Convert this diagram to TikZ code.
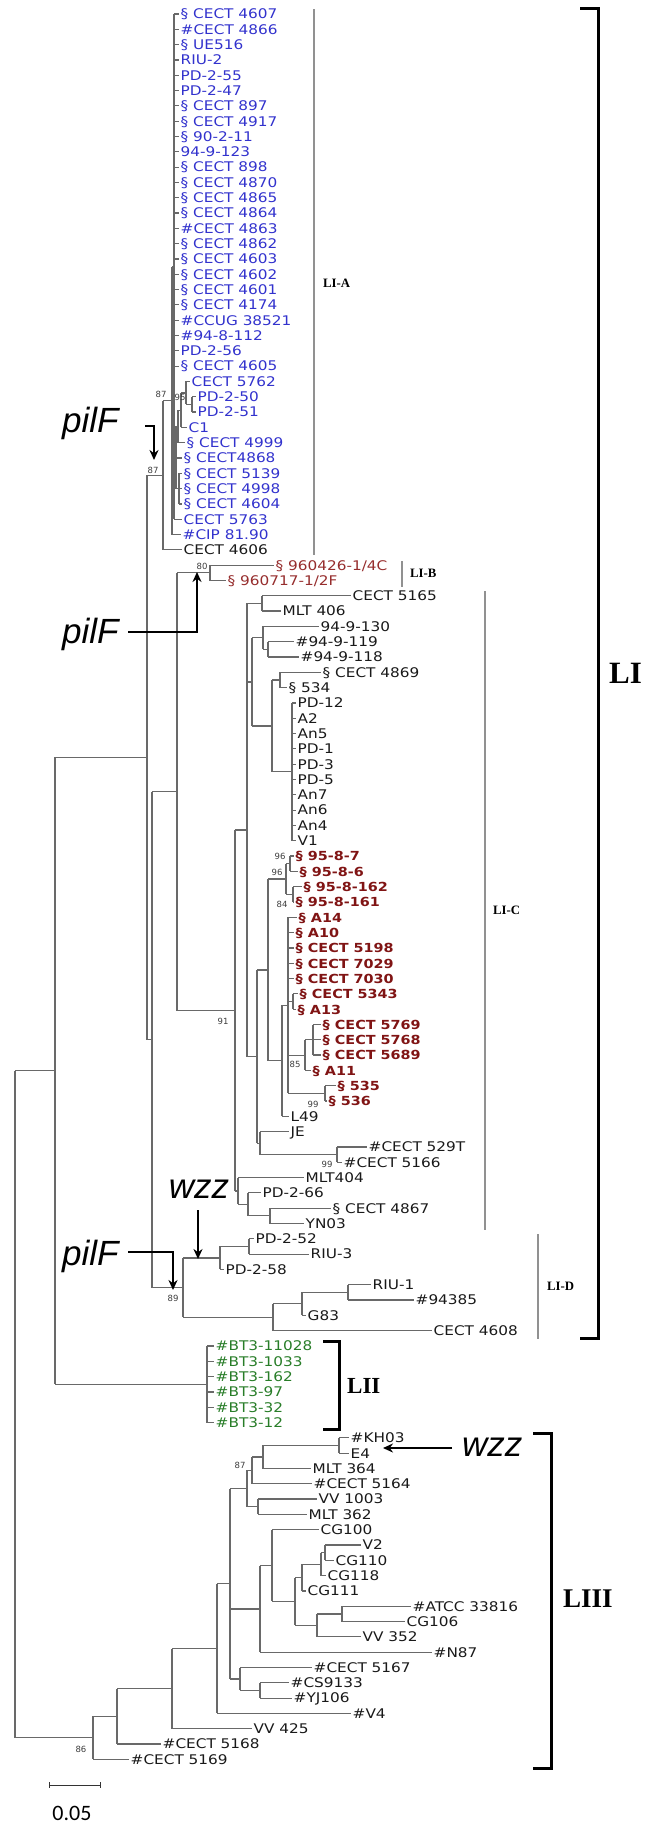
\documentclass[tikz,border=0pt]{standalone}
\usepackage{fontspec}
\setmainfont{DejaVu Sans}
\newfontfamily\lblfont{DejaVu Sans}[FakeStretch=1.15]
\newfontfamily\bsfont{DejaVu Sans}
\newfontfamily\cladefont{Liberation Serif}
\newfontfamily\genefont{Liberation Sans}
\newfontfamily\scalebarfont{Carlito}
\usetikzlibrary{arrows.meta}
\definecolor{treegray}{RGB}{105,105,105}
\definecolor{lblblue}{RGB}{50,50,205}
\definecolor{lblbrown}{RGB}{150,45,45}
\definecolor{lblred}{RGB}{128,20,20}
\definecolor{lblgreen}{RGB}{40,125,40}
\definecolor{lblblack}{RGB}{25,25,25}
\definecolor{bsgray}{RGB}{60,60,60}
\definecolor{bargray}{RGB}{145,145,145}
\newcommand{\tleaf}[5]{%
  \pgfmathsetmacro{\yy}{14+15.31*#1}%
  \node[lbl,#2,anchor=west] (r#1) at (#4,\yy) {#5};%
  \draw[br] (#3 |- r#1.west) -- (r#1.west);}
\newcommand{\tnode}[4]{\coordinate (#1) at (#2,{(#3+#4)/2}); \draw[br] (#2,#3) -- (#2,#4);}
\newcommand{\tlink}[2]{\draw[br] (#1 |- #2) -- (#2);}
\begin{document}
\begin{tikzpicture}[x=1pt,y=-1pt,
  br/.style={draw=treegray, line width=1.2pt},
  lbl/.style={font=\lblfont\fontsize{13.3}{15}\selectfont, text=lblblack, inner xsep=1.5pt, inner ysep=0pt, text height=9.7pt, text depth=0pt},
  blk/.style={},
  blu/.style={text=lblblue},
  brn/.style={text=lblbrown},
  redb/.style={text=lblred, font=\lblfont\bfseries\fontsize{12.5}{15}\selectfont},
  grn/.style={text=lblgreen},
  bs/.style={font=\bsfont\fontsize{8.5}{9}\selectfont, text=bsgray, inner sep=0pt},
  cbar/.style={draw=bargray, line width=1.4pt},
  bracket/.style={draw=black, line width=3pt, line join=miter},
  clab/.style={font=\cladefont\bfseries\fontsize{12.8}{13}\selectfont, inner sep=0pt, anchor=west},
  gene/.style={font=\genefont\itshape\fontsize{35}{36}\selectfont, inner sep=0pt},
  arr/.style={draw=black, line width=2.2pt, -{Stealth[length=10pt,width=9pt]}}
]
\useasboundingbox (0,0) rectangle (646,1823);

% ---------- internal nodes ----------
% LI-A
\tnode{PA1}{174}{14.0}{519.2}
\tnode{nPD}{192}{396.8}{412.1}
\tnode{n95}{186}{381.4}{404.45}
\tnode{nC}{181}{392.9}{427.4}
\tnode{nD}{178}{410.15}{442.7}
\tnode{nE}{179}{473.3}{503.9}
\tnode{S}{176}{426.4}{488.6}
\tnode{PA0}{172}{266.6}{534.5}
\tnode{N2}{163}{400.55}{549.9}
% LI-B / LI-C
\tnode{nB80}{210}{565.2}{580.5}
\tnode{C5165}{262}{595.8}{611.1}
\tnode{H}{268}{641.7}{657.0}
\tnode{G94}{263}{626.4}{649.35}
\tnode{L}{280}{672.3}{687.6}
\tnode{M}{292}{703.0}{840.7}
\tnode{N272}{272}{679.95}{771.85}
\tnode{P252}{252}{637.9}{725.9}
\tnode{n96a}{290}{856.1}{871.4}
\tnode{n84}{293}{886.7}{902.0}
\tnode{n96b}{286}{863.75}{894.35}
\tnode{n5343}{293}{993.8}{1009.2}
\tnode{n5769}{313}{1024.5}{1055.1}
\tnode{n85}{305}{1039.8}{1070.4}
\tnode{n99}{325}{1085.7}{1101.0}
\tnode{nA}{288}{917.3}{1093.35}
\tnode{Q}{282}{1005.3}{1116.3}
\tnode{R268}{268}{879.05}{1060.8}
\tnode{n99b}{337}{1146.9}{1162.3}
\tnode{J260}{260}{1131.6}{1154.6}
\tnode{n257}{257}{969.9}{1143.1}
\tnode{X}{247}{603.45}{1056.5}
\tnode{n270}{270}{1208.2}{1223.5}
\tnode{n248}{248}{1192.9}{1215.85}
\tnode{Y}{238}{1177.6}{1204.4}
\tnode{n91}{235}{829.98}{1191.0}
\tnode{W}{177}{572.85}{1010.5}
% LI-D
\tnode{Q249}{249}{1238.8}{1254.1}
\tnode{R220}{220}{1246.45}{1269.4}
\tnode{U}{348}{1284.7}{1300.0}
\tnode{T}{302}{1292.35}{1315.4}
\tnode{S273}{273}{1303.9}{1330.7}
\tnode{n89}{183}{1257.9}{1317.3}
\tnode{B}{152}{791.7}{1287.6}
\tnode{N1}{147}{475.2}{1039.65}
% LII
\tnode{nLII}{207}{1346.0}{1422.5}
\tnode{A}{55}{757.4}{1384.25}
% LIII
\tnode{nKH}{339}{1437.8}{1453.1}
\tnode{MLTn}{263}{1445.45}{1468.5}
\tnode{n87}{252}{1457.0}{1483.8}
\tnode{Vm}{258}{1499.1}{1514.4}
\tnode{X5}{247}{1470.4}{1506.75}
\tnode{V2b}{325}{1545.0}{1560.3}
\tnode{nV2}{321}{1552.65}{1575.6}
\tnode{CG}{302}{1564.1}{1590.9}
\tnode{AC}{342}{1606.2}{1621.6}
\tnode{nAT}{317}{1613.9}{1636.9}
\tnode{X9}{295}{1577.5}{1625.4}
\tnode{X8}{272}{1529.7}{1601.45}
\tnode{X6}{260}{1565.6}{1652.2}
\tnode{CS}{260}{1682.8}{1698.1}
\tnode{X7}{240}{1667.5}{1690.45}
\tnode{X4}{230}{1488.6}{1679.0}
\tnode{X3}{217}{1583.8}{1713.4}
\tnode{X2}{172}{1648.6}{1728.7}
\tnode{X1}{117}{1688.65}{1744.0}
\tnode{n86}{93}{1716.3}{1759.3}
\tnode{Root}{15}{1070.8}{1737.8}

% ---------- internal links ----------
\tlink{PA0}{PA1}\tlink{PA1}{S}\tlink{S}{nD}\tlink{S}{nE}\tlink{nD}{nC}\tlink{nC}{n95}\tlink{n95}{nPD}
\tlink{N2}{PA0}\tlink{N1}{N2}\tlink{N1}{B}\tlink{B}{W}\tlink{B}{n89}
\tlink{W}{nB80}\tlink{W}{n91}\tlink{n91}{X}\tlink{n91}{Y}
\tlink{X}{C5165}\tlink{X}{P252}\tlink{X}{n257}\tlink{P252}{G94}\tlink{P252}{N272}\tlink{G94}{H}
\tlink{N272}{L}\tlink{N272}{M}\tlink{n257}{R268}\tlink{n257}{J260}\tlink{R268}{n96b}\tlink{R268}{Q}
\tlink{n96b}{n96a}\tlink{n96b}{n84}\tlink{Q}{nA}\tlink{nA}{n5343}\tlink{nA}{n85}\tlink{nA}{n99}\tlink{n85}{n5769}
\tlink{J260}{n99b}\tlink{Y}{n248}\tlink{n248}{n270}
\tlink{n89}{R220}\tlink{n89}{S273}\tlink{R220}{Q249}\tlink{S273}{T}\tlink{T}{U}
\tlink{A}{N1}\tlink{A}{nLII}\tlink{Root}{A}\tlink{Root}{n86}
\tlink{n86}{X1}\tlink{X1}{X2}\tlink{X2}{X3}\tlink{X3}{X4}\tlink{X4}{X5}\tlink{X4}{X6}\tlink{X4}{X7}
\tlink{X5}{n87}\tlink{X5}{Vm}\tlink{n87}{MLTn}\tlink{MLTn}{nKH}\tlink{X6}{X8}\tlink{X8}{X9}
\tlink{X9}{CG}\tlink{X9}{nAT}\tlink{CG}{nV2}\tlink{nV2}{V2b}\tlink{nAT}{AC}\tlink{X7}{CS}

% ---------- leaves: LI-A ----------
\tleaf{0}{blu}{PA1}{179}{§ CECT 4607}
\tleaf{1}{blu}{PA1}{179}{\#CECT 4866}
\tleaf{2}{blu}{PA1}{179}{§ UE516}
\tleaf{3}{blu}{PA1}{179}{RIU-2}
\tleaf{4}{blu}{PA1}{179}{PD-2-55}
\tleaf{5}{blu}{PA1}{179}{PD-2-47}
\tleaf{6}{blu}{PA1}{179}{§ CECT 897}
\tleaf{7}{blu}{PA1}{179}{§ CECT 4917}
\tleaf{8}{blu}{PA1}{179}{§ 90-2-11}
\tleaf{9}{blu}{PA1}{179}{94-9-123}
\tleaf{10}{blu}{PA1}{179}{§ CECT 898}
\tleaf{11}{blu}{PA1}{179}{§ CECT 4870}
\tleaf{12}{blu}{PA1}{179}{§ CECT 4865}
\tleaf{13}{blu}{PA1}{179}{§ CECT 4864}
\tleaf{14}{blu}{PA1}{179}{\#CECT 4863}
\tleaf{15}{blu}{PA1}{179}{§ CECT 4862}
\tleaf{16}{blu}{PA1}{179}{§ CECT 4603}
\tleaf{17}{blu}{PA1}{179}{§ CECT 4602}
\tleaf{18}{blu}{PA1}{179}{§ CECT 4601}
\tleaf{19}{blu}{PA1}{179}{§ CECT 4174}
\tleaf{20}{blu}{PA1}{179}{\#CCUG 38521}
\tleaf{21}{blu}{PA1}{179}{\#94-8-112}
\tleaf{22}{blu}{PA1}{179}{PD-2-56}
\tleaf{23}{blu}{PA1}{179}{§ CECT 4605}
\tleaf{24}{blu}{n95}{190}{CECT 5762}
\tleaf{25}{blu}{nPD}{196}{PD-2-50}
\tleaf{26}{blu}{nPD}{196}{PD-2-51}
\tleaf{27}{blu}{nC}{187}{C1}
\tleaf{28}{blu}{nD}{185}{§ CECT 4999}
\tleaf{29}{blu}{S}{182}{§ CECT4868}
\tleaf{30}{blu}{nE}{182}{§ CECT 5139}
\tleaf{31}{blu}{nE}{182}{§ CECT 4998}
\tleaf{32}{blu}{nE}{182}{§ CECT 4604}
\tleaf{33}{blu}{PA1}{182}{CECT 5763}
\tleaf{34}{blu}{PA0}{181}{\#CIP 81.90}
\tleaf{35}{blk}{N2}{182}{CECT 4606}
% LI-B
\tleaf{36}{brn}{nB80}{274}{§ 960426-1/4C}
\tleaf{37}{brn}{nB80}{226}{§ 960717-1/2F}
% LI-C
\tleaf{38}{blk}{C5165}{351}{CECT 5165}
\tleaf{39}{blk}{C5165}{281}{MLT 406}
\tleaf{40}{blk}{G94}{319}{94-9-130}
\tleaf{41}{blk}{H}{294}{\#94-9-119}
\tleaf{42}{blk}{H}{299}{\#94-9-118}
\tleaf{43}{blk}{L}{321}{§ CECT 4869}
\tleaf{44}{blk}{L}{287}{§ 534}
\tleaf{45}{blk}{M}{296}{PD-12}
\tleaf{46}{blk}{M}{296}{A2}
\tleaf{47}{blk}{M}{296}{An5}
\tleaf{48}{blk}{M}{296}{PD-1}
\tleaf{49}{blk}{M}{296}{PD-3}
\tleaf{50}{blk}{M}{296}{PD-5}
\tleaf{51}{blk}{M}{296}{An7}
\tleaf{52}{blk}{M}{296}{An6}
\tleaf{53}{blk}{M}{296}{An4}
\tleaf{54}{blk}{M}{296}{V1}
\tleaf{55}{redb}{n96a}{294}{§ 95-8-7}
\tleaf{56}{redb}{n96a}{298}{§ 95-8-6}
\tleaf{57}{redb}{n84}{302}{§ 95-8-162}
\tleaf{58}{redb}{n84}{294}{§ 95-8-161}
\tleaf{59}{redb}{nA}{297}{§ A14}
\tleaf{60}{redb}{nA}{294}{§ A10}
\tleaf{61}{redb}{nA}{294}{§ CECT 5198}
\tleaf{62}{redb}{nA}{294}{§ CECT 7029}
\tleaf{63}{redb}{nA}{294}{§ CECT 7030}
\tleaf{64}{redb}{n5343}{298}{§ CECT 5343}
\tleaf{65}{redb}{n5343}{296}{§ A13}
\tleaf{66}{redb}{n5769}{321}{§ CECT 5769}
\tleaf{67}{redb}{n5769}{321}{§ CECT 5768}
\tleaf{68}{redb}{n5769}{321}{§ CECT 5689}
\tleaf{69}{redb}{n85}{311}{§ A11}
\tleaf{70}{redb}{n99}{336}{§ 535}
\tleaf{71}{redb}{n99}{327}{§ 536}
\tleaf{72}{blk}{Q}{289}{L49}
\tleaf{73}{blk}{J260}{289}{JE}
\tleaf{74}{blk}{n99b}{367}{\#CECT 529T}
\tleaf{75}{blk}{n99b}{342}{\#CECT 5166}
\tleaf{76}{blk}{Y}{304}{MLT404}
\tleaf{77}{blk}{n248}{261}{PD-2-66}
\tleaf{78}{blk}{n270}{331}{§ CECT 4867}
\tleaf{79}{blk}{n270}{304}{YN03}
% LI-D
\tleaf{80}{blk}{Q249}{254}{PD-2-52}
\tleaf{81}{blk}{Q249}{309}{RIU-3}
\tleaf{82}{blk}{R220}{224}{PD-2-58}
\tleaf{83}{blk}{U}{371}{RIU-1}
\tleaf{84}{blk}{U}{414}{\#94385}
\tleaf{85}{blk}{T}{306}{G83}
\tleaf{86}{blk}{S273}{432}{CECT 4608}
% LII
\tleaf{87}{grn}{nLII}{214}{\#BT3-11028}
\tleaf{88}{grn}{nLII}{214}{\#BT3-1033}
\tleaf{89}{grn}{nLII}{214}{\#BT3-162}
\tleaf{90}{grn}{nLII}{214}{\#BT3-97}
\tleaf{91}{grn}{nLII}{214}{\#BT3-32}
\tleaf{92}{grn}{nLII}{214}{\#BT3-12}
% LIII
\tleaf{93}{blk}{nKH}{349}{\#KH03}
\tleaf{94}{blk}{nKH}{349}{E4}
\tleaf{95}{blk}{MLTn}{311}{MLT 364}
\tleaf{96}{blk}{n87}{312}{\#CECT 5164}
\tleaf{97}{blk}{Vm}{317}{VV 1003}
\tleaf{98}{blk}{Vm}{307}{MLT 362}
\tleaf{99}{blk}{X8}{319}{CG100}
\tleaf{100}{blk}{V2b}{361}{V2}
\tleaf{101}{blk}{V2b}{334}{CG110}
\tleaf{102}{blk}{nV2}{326}{CG118}
\tleaf{103}{blk}{CG}{306}{CG111}
\tleaf{104}{blk}{AC}{411}{\#ATCC 33816}
\tleaf{105}{blk}{AC}{405}{CG106}
\tleaf{106}{blk}{nAT}{361}{VV 352}
\tleaf{107}{blk}{X6}{432}{\#N87}
\tleaf{108}{blk}{X7}{312}{\#CECT 5167}
\tleaf{109}{blk}{CS}{289}{\#CS9133}
\tleaf{110}{blk}{CS}{292}{\#YJ106}
\tleaf{111}{blk}{X3}{351}{\#V4}
\tleaf{112}{blk}{X2}{252}{VV 425}
\tleaf{113}{blk}{X1}{161}{\#CECT 5168}
\tleaf{114}{blk}{n86}{129}{\#CECT 5169}

% ---------- bootstrap values ----------
\node[bs] (bs1) at (161,394) {87};
\node[bs] (bs2) at (180,397) {95};
\node[bs] (bs3) at (153,470) {87};
\node[bs] (bs4) at (202,566) {80};
\node[bs] (bs5) at (280,856) {96};
\node[bs] (bs6) at (277,872) {96};
\node[bs] (bs7) at (282,904) {84};
\node[bs] (bs8) at (223,1021) {91};
\node[bs] (bs9) at (295,1064) {85};
\node[bs] (bs10) at (313,1104) {99};
\node[bs] (bs11) at (327,1164) {99};
\node[bs] (bs12) at (173,1298) {89};
\node[bs] (bs13) at (240,1465) {87};
\node[bs] (bs14) at (81,1749) {86};

% ---------- clade bars and labels ----------
\draw[cbar] (314,9) -- (314,555);
\node[clab] (cLIA) at (323,283) {LI-A};
\draw[cbar] (402,561) -- (402,587);
\node[clab] (cLIB) at (410,573) {LI-B};
\draw[cbar] (485,591) -- (485,1230);
\node[clab] (cLIC) at (493,910) {LI-C};
\draw[cbar] (538,1234) -- (538,1339);
\node[clab] (cLID) at (547,1286) {LI-D};

\draw[bracket] (580,8) -- (598,8) -- (598,1338) -- (580,1338);
\node[clab, font=\cladefont\bfseries\fontsize{31}{32}\selectfont] (cLI) at (609,673) {LI};
\draw[bracket] (323,1341) -- (339,1341) -- (339,1429) -- (323,1429);
\node[clab, font=\cladefont\bfseries\fontsize{23}{24}\selectfont] (cLII) at (347,1386) {LII};
\draw[bracket] (533,1433) -- (551,1433) -- (551,1768) -- (533,1768);
\node[clab, font=\cladefont\bfseries\fontsize{27}{28}\selectfont] (cLIII) at (563,1599) {LIII};

% ---------- gene annotations ----------
\node[gene, anchor=base west] (g1) at (62,432) {pilF};
\coordinate (a1s) at (145,426); \coordinate (a1t) at (154,460);
\draw[arr] (a1s) -| (a1t);
\node[gene, anchor=base west] (g2) at (62,643) {pilF};
\coordinate (a2s) at (128,632); \coordinate (a2t) at (197,572);
\draw[arr] (a2s) -| (a2t);
\node[gene, anchor=base west] (g3) at (62,1265) {pilF};
\coordinate (a3s) at (128,1252); \coordinate (a3t) at (173,1290);
\draw[arr] (a3s) -| (a3t);
\node[gene, anchor=base] (w1) at (199,1198) {wzz};
\coordinate (w1s) at (198,1210); \coordinate (w1t) at (198,1259);
\draw[arr] (w1s) -- (w1t);
\node[gene, anchor=base west] (w2) at (462,1456) {wzz};
\coordinate (w2s) at (452,1448); \coordinate (w2t) at (383,1448);
\draw[arr] (w2s) -- (w2t);

% ---------- scale bar ----------
\coordinate (sb1) at (49,1785); \coordinate (sb2) at (100,1785);
\draw[draw=black!80, line width=1pt] (sb1) -- (sb2);
\draw[draw=black!80, line width=1pt] (49,1782) -- (49,1788) (100,1782) -- (100,1788);
\node[font=\scalebarfont\fontsize{22}{24}\selectfont, inner sep=0pt] (sbl) at (72,1813) {0.05};
\end{tikzpicture}
\end{document}
